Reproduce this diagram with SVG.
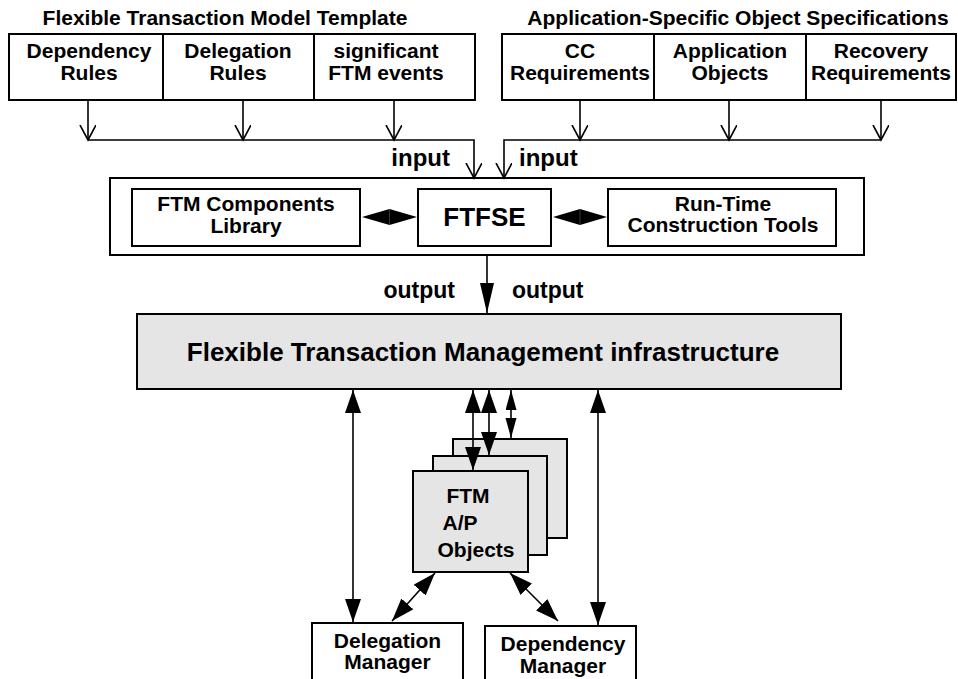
<svg xmlns="http://www.w3.org/2000/svg" width="958" height="679" viewBox="0 0 958 679">
<defs>
<style>
.t{font-family:"Liberation Sans",Arial,Helvetica,sans-serif;font-weight:bold;fill:#000;}
.s21{font-size:21px;}
.s23{font-size:23px;}
.s24{font-size:24px;}
.big{font-size:26px;}
.box{fill:#fff;stroke:#000;stroke-width:2;}
.gbox{fill:#e5e5e5;stroke:#000;stroke-width:2;}
.ln{fill:none;stroke:#000;stroke-width:1.6;}
</style>
<marker id="open" markerWidth="18" markerHeight="18" refX="15" refY="8" orient="auto" markerUnits="userSpaceOnUse">
<path d="M0,0 L15,8 L0,16" fill="none" stroke="#000" stroke-width="1.6"/>
</marker>
<marker id="fill" markerWidth="24" markerHeight="18" refX="23" refY="8" orient="auto-start-reverse" markerUnits="userSpaceOnUse">
<path d="M0,0 L23,8 L0,16 z" fill="#000"/>
</marker>
<marker id="fillS" markerWidth="22" markerHeight="12" refX="20" refY="5.5" orient="auto-start-reverse" markerUnits="userSpaceOnUse">
<path d="M0,0 L20,5.5 L0,11 z" fill="#000"/>
</marker>
<marker id="fillO" markerWidth="32" markerHeight="16" refX="30" refY="7" orient="auto" markerUnits="userSpaceOnUse">
<path d="M0,0 L30,7 L0,14 z" fill="#000"/>
</marker>
</defs>

<text class="t s21" x="225" y="25" text-anchor="middle">Flexible Transaction Model Template</text>
<text class="t s21" x="738" y="25" text-anchor="middle">Application-Specific Object Specifications</text>

<g id="ftm-template">
<rect class="box" x="9" y="34" width="466" height="66"/>
<line class="ln" x1="163" y1="34" x2="163" y2="100" style="stroke-width:2"/>
<line class="ln" x1="314" y1="34" x2="314" y2="100" style="stroke-width:2"/>
</g>
<g id="dependency-rules">
<text class="t s21" x="89" y="58" text-anchor="middle">Dependency</text>
<text class="t s21" x="89" y="80" text-anchor="middle">Rules</text>
</g>
<g id="delegation-rules">
<text class="t s21" x="238" y="58" text-anchor="middle">Delegation</text>
<text class="t s21" x="238" y="80" text-anchor="middle">Rules</text>
</g>
<g id="significant-events">
<text class="t s21" x="386" y="58" text-anchor="middle">significant</text>
<text class="t s21" x="386" y="80" text-anchor="middle">FTM events</text>
</g>

<g id="app-specs">
<rect class="box" x="502" y="34" width="454" height="66"/>
<line class="ln" x1="654" y1="34" x2="654" y2="100" style="stroke-width:2"/>
<line class="ln" x1="806" y1="34" x2="806" y2="100" style="stroke-width:2"/>
</g>
<g id="cc-req">
<text class="t s21" x="580" y="58" text-anchor="middle">CC</text>
<text class="t s21" x="580" y="80" text-anchor="middle">Requirements</text>
</g>
<g id="app-objects">
<text class="t s21" x="730" y="58" text-anchor="middle">Application</text>
<text class="t s21" x="730" y="80" text-anchor="middle">Objects</text>
</g>
<g id="recovery-req">
<text class="t s21" x="881" y="58" text-anchor="middle">Recovery</text>
<text class="t s21" x="881" y="80" text-anchor="middle">Requirements</text>
</g>

<g id="ftfse-container">
<rect class="box" x="110" y="178" width="754" height="77"/>
</g>
<g id="ftm-components">
<rect class="box" x="132" y="189" width="228" height="57"/>
<text class="t s21" x="246" y="211" text-anchor="middle">FTM Components</text>
<text class="t s21" x="246" y="233" text-anchor="middle">Library</text>
</g>
<g id="ftfse">
<rect class="box" x="418" y="189" width="133" height="57"/>
<text class="t big" x="484.5" y="226" text-anchor="middle">FTFSE</text>
</g>
<g id="runtime-tools">
<rect class="box" x="608" y="189" width="228" height="57"/>
<text class="t s21" x="723" y="211" text-anchor="middle">Run-Time</text>
<text class="t s21" x="723" y="232" text-anchor="middle">Construction Tools</text>
</g>

<g id="ftm-infrastructure">
<rect class="gbox" x="137" y="314" width="704" height="75"/>
<text class="t big" x="483" y="361" text-anchor="middle">Flexible Transaction Management infrastructure</text>
</g>

<g id="ftm-ap-objects">
<rect class="gbox" x="453" y="439" width="114" height="99"/>
<rect class="gbox" x="433" y="456" width="114" height="99"/>
<rect class="gbox" x="413" y="471" width="115" height="101"/>
<text class="t s21" x="468" y="503" text-anchor="middle">FTM</text>
<text class="t s21" x="460" y="530" text-anchor="middle">A/P</text>
<text class="t s21" x="476" y="557" text-anchor="middle">Objects</text>
</g>

<g id="delegation-manager">
<rect class="box" x="312" y="623" width="151" height="70"/>
<text class="t s21" x="387.5" y="648" text-anchor="middle">Delegation</text>
<text class="t s21" x="387.5" y="669" text-anchor="middle">Manager</text>
</g>
<g id="dependency-manager">
<rect class="box" x="485" y="626" width="151" height="70"/>
<text class="t s21" x="563" y="651" text-anchor="middle">Dependency</text>
<text class="t s21" x="563" y="673" text-anchor="middle">Manager</text>
</g>

<g id="connectors">
<line class="ln" x1="88" y1="100" x2="88" y2="140" marker-end="url(#open)"/>
<line class="ln" x1="243" y1="100" x2="243" y2="140" marker-end="url(#open)"/>
<line class="ln" x1="394" y1="100" x2="394" y2="140" marker-end="url(#open)"/>
<polyline class="ln" points="88,140 474,140 474,178" marker-end="url(#open)"/>
<line class="ln" x1="580" y1="100" x2="580" y2="140" marker-end="url(#open)"/>
<line class="ln" x1="729" y1="100" x2="729" y2="140" marker-end="url(#open)"/>
<line class="ln" x1="881" y1="100" x2="881" y2="140" marker-end="url(#open)"/>
<polyline class="ln" points="881,140 504,140 504,178" marker-end="url(#open)"/>
<text class="t s24" x="450" y="166" text-anchor="end">input</text>
<text class="t s24" x="519" y="166">input</text>

<polygon points="362,217 389.5,209 417,217 389.5,225" fill="#000"/>
<line x1="389.5" y1="209" x2="389.5" y2="225" stroke="#444" stroke-width="0.8"/>
<polygon points="553,217 580,209 607,217 580,225" fill="#000"/>
<line x1="580" y1="209" x2="580" y2="225" stroke="#444" stroke-width="0.8"/>

<line class="ln" x1="487" y1="255" x2="487" y2="313" marker-end="url(#fillO)"/>
<text class="t s23" x="455" y="298" text-anchor="end">output</text>
<text class="t s23" x="512" y="298">output</text>

<line class="ln" x1="353" y1="390" x2="353" y2="622" marker-start="url(#fill)" marker-end="url(#fill)"/>
<line class="ln" x1="598" y1="390" x2="598" y2="625" marker-start="url(#fill)" marker-end="url(#fill)"/>
<line class="ln" x1="473" y1="390" x2="473" y2="470" marker-start="url(#fill)" marker-end="url(#fill)"/>
<line class="ln" x1="489" y1="390" x2="489" y2="455" marker-start="url(#fill)" marker-end="url(#fill)"/>
<line class="ln" x1="511" y1="390" x2="511" y2="438" marker-start="url(#fillS)" marker-end="url(#fillS)"/>
<line class="ln" x1="435" y1="573" x2="392" y2="621" marker-start="url(#fill)" marker-end="url(#fill)"/>
<line class="ln" x1="510" y1="573" x2="558" y2="621" marker-start="url(#fill)" marker-end="url(#fill)"/>
</g>
</svg>
